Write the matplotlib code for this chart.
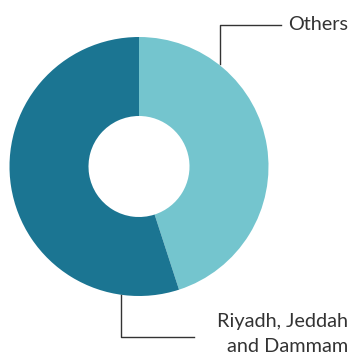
import matplotlib
matplotlib.use("Agg")
import matplotlib.pyplot as plt

labels = ["Others", "Riyadh, Jeddah\nand Dammam"]
shares = [45, 55]
colors = ["#74C5CE", "#1B7592"]

W, H = 353, 354
fig = plt.figure(figsize=(W / 100, H / 100), dpi=100)
ax = fig.add_axes([0, 0, 1, 1])

cx, cy, r = 139, H - 166.5, 129.5
ax.pie(shares, colors=colors, startangle=90, counterclock=False,
       radius=r, center=(cx, cy), frame=True,
       wedgeprops=dict(width=r * 0.61, linewidth=0))
ax.set_xlim(0, W)
ax.set_ylim(0, H)
ax.set_aspect("equal")
ax.axis("off")

line_kw = dict(color="#333333", linewidth=1.0)
text_kw = dict(family="Lato", color="#333333", fontsize=14.3)
# leader for Others
ax.plot([220, 220, 281], [H - 64, H - 25, H - 25], **line_kw)
ax.text(288, H - 25, labels[0], ha="left", va="center", **text_kw)
# leader for Riyadh, Jeddah and Dammam
ax.plot([121, 121, 194], [H - 295, H - 337, H - 337], **line_kw)
for i, part in enumerate(labels[1].split("\n")):
    ax.text(348, H - 327 - 25 * i, part, ha="right", va="baseline", **text_kw)

fig.savefig("out.png", dpi=100)
